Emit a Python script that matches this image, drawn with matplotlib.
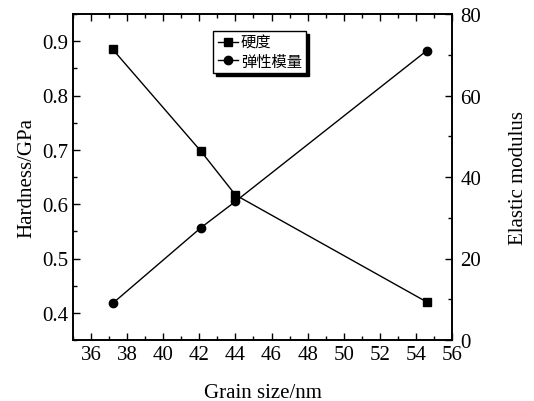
import matplotlib
matplotlib.use('Agg')
import matplotlib.pyplot as plt
from matplotlib.ticker import MultipleLocator

# data
grain_size = [37.2, 42.1, 44.0, 54.6]
hardness = [0.885, 0.697, 0.617, 0.420]
modulus = [9.0, 27.6, 34.0, 71.0]

plt.rcParams['font.family'] = ['Liberation Serif', 'Noto Sans CJK SC']

fig = plt.figure(figsize=(5.34, 4.02), dpi=100)
ax = fig.add_axes([73 / 534, 1 - 341 / 402, (452 - 73) / 534, (341 - 15) / 402])
ax2 = ax.twinx()

l1, = ax.plot(grain_size, hardness, color='black', lw=1.0, marker='s', ms=6, label='硬度')
l2, = ax2.plot(grain_size, modulus, color='black', lw=1.0, marker='o', ms=6, label='弹性模量')

ax.set_xlim(35, 56)
ax.set_ylim(0.35, 0.95)
ax2.set_ylim(0, 80)

ax.xaxis.set_major_locator(MultipleLocator(2))
ax.xaxis.set_minor_locator(MultipleLocator(1))
ax.yaxis.set_major_locator(MultipleLocator(0.1))
ax.yaxis.set_minor_locator(MultipleLocator(0.05))
ax2.yaxis.set_major_locator(MultipleLocator(20))
ax2.yaxis.set_minor_locator(MultipleLocator(10))

ax.tick_params(axis='x', which='both', direction='in', top=True, labelsize=15)
ax.tick_params(axis='y', which='both', direction='in', labelsize=15)
ax2.tick_params(axis='y', which='both', direction='in', labelsize=15, pad=6)
for a in (ax, ax2):
    a.tick_params(which='major', length=5, width=1)
    a.tick_params(which='minor', length=3, width=1)
    for s in a.spines.values():
        s.set_linewidth(1.2)

ax.set_xlabel('Grain size/nm', fontsize=15, labelpad=14)
ax.set_ylabel('Hardness/GPa', fontsize=15, labelpad=4)
ax2.set_ylabel('Elastic modulus', fontsize=15, labelpad=20)

leg = ax.legend(handles=[l1, l2], loc='upper left', bbox_to_anchor=(0.37, 0.947),
                fontsize=11, frameon=True, fancybox=False, shadow={'color': 'black', 'alpha': 1},
                handlelength=1.3, handletextpad=0.2, borderpad=0.3, labelspacing=0.3,
                borderaxespad=0)
leg.get_frame().set_edgecolor('black')
leg.get_frame().set_linewidth(1.0)
leg.set_zorder(10)

fig.savefig('out.png', dpi=100)
